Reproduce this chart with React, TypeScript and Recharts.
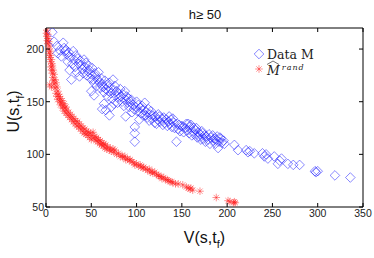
import { ScatterChart, Scatter, XAxis, YAxis, ReferenceArea, Legend } from 'recharts'

// [V, U] pairs
const dataM: [number, number][] = [
  [7, 216], [9, 207], [12, 203], [13, 196], [15, 199], [17, 193], [19, 206], [20, 201], [21, 198], [22, 199],
  [23, 195], [24, 188], [25, 197], [26, 180], [27, 192], [28, 171], [29, 186], [30, 198], [31, 190], [32, 183],
  [33, 194], [34, 178], [35, 191], [36, 186], [37, 174], [38, 189], [39, 185], [40, 181], [41, 177], [42, 190],
  [43, 183], [44, 187], [45, 175], [46, 179], [47, 184], [48, 180], [49, 172], [50, 160], [50, 176], [51, 182],
  [52, 171], [53, 156], [53, 168], [54, 177], [55, 174], [56, 165], [57, 171], [58, 178], [59, 168], [60, 163],
  [61, 172], [62, 167], [62, 143], [63, 164], [64, 159], [64, 148], [65, 170], [66, 142], [66, 162], [67, 166],
  [68, 155], [69, 160], [70, 137], [70, 168], [71, 163], [72, 158], [72, 145], [73, 153], [74, 171], [75, 161],
  [75, 148], [76, 165], [77, 156], [78, 160], [79, 149], [80, 158], [81, 154], [82, 162], [83, 155], [84, 150],
  [85, 157], [86, 146], [87, 160], [88, 136], [88, 152], [89, 155], [90, 149], [91, 153], [92, 145], [93, 150],
  [94, 152], [95, 140], [96, 147], [97, 143], [98, 126], [98, 112], [98, 120], [99, 145], [100, 150], [101, 141],
  [102, 147], [103, 133], [104, 144], [105, 139], [106, 146], [107, 137], [108, 142], [109, 149], [110, 137], [111, 140],
  [112, 135], [113, 143], [114, 132], [115, 138], [116, 141], [117, 134], [118, 137], [120, 130], [121, 136], [122, 129],
  [123, 133], [124, 138], [125, 136], [126, 131], [128, 134], [129, 128], [130, 135], [131, 130], [133, 133], [134, 127],
  [135, 131], [136, 136], [137, 129], [138, 133], [139, 126], [140, 134], [141, 130], [142, 125], [144, 112], [145, 129],
  [146, 124], [147, 128], [148, 122], [150, 127], [151, 126], [152, 121], [154, 125], [155, 129], [156, 123], [157, 129],
  [158, 120], [159, 126], [160, 128], [161, 118], [162, 122], [163, 125], [164, 119], [165, 123], [166, 125], [167, 116],
  [168, 121], [169, 117], [170, 119], [171, 114], [172, 122], [173, 120], [174, 115], [175, 118], [176, 112], [177, 117],
  [179, 114], [180, 119], [181, 110], [182, 116], [184, 118], [185, 113], [186, 115], [187, 110], [188, 114], [189, 117],
  [190, 106], [191, 112], [192, 116], [193, 115], [194, 111], [196, 113], [197, 110], [208, 109], [212, 104], [221, 104],
  [223, 102], [225, 103], [230, 101], [239, 101], [241, 98], [243, 100], [245, 96], [252, 98], [256, 91], [258, 94],
  [260, 96], [267, 91], [273, 90], [280, 90], [297, 84], [298, 83], [300, 84], [319, 80], [336, 78],
]

const dataRand: [number, number][] = [
  [0.5, 215], [1, 218], [1, 212], [1.5, 208], [2, 214], [2, 205], [2.5, 210], [3, 200], [3, 207], [3.5, 196],
  [4, 203], [4, 192], [4.5, 198], [5, 188], [5, 194], [5.5, 183], [6, 190], [6, 180], [6.5, 186], [7, 177],
  [7, 184], [7.5, 173], [8, 180], [8, 170], [9, 176], [9, 167], [4, 166], [6, 164], [10, 171], [10, 163],
  [11, 168], [11, 158], [12, 164], [12, 155], [13, 160], [13, 152], [14, 157], [15, 150], [15, 155], [16, 147],
  [16, 153], [17, 149], [18, 144], [18, 151], [19, 146], [20, 141], [20, 148], [21, 144], [22, 139], [22, 145],
  [23, 142], [24, 137], [25, 140], [26, 135], [27, 138], [28, 133], [29, 136], [30, 131], [31, 134], [32, 129],
  [33, 132], [34, 127], [35, 131], [36, 126], [37, 129], [38, 124], [39, 127], [40, 122], [41, 125], [42, 120],
  [43, 124], [44, 119], [45, 122], [46, 118], [47, 121], [48, 116], [49, 120], [50, 114], [51, 118], [52, 121],
  [53, 115], [54, 117], [55, 113], [56, 116], [57, 112], [58, 114], [59, 110], [60, 113], [61, 109], [62, 111],
  [63, 108], [64, 110], [65, 106], [66, 109], [67, 105], [68, 107], [70, 104], [71, 106], [72, 103], [74, 105],
  [75, 102], [76, 104], [78, 100], [80, 101], [82, 98], [84, 99], [85, 97], [87, 98], [88, 95], [90, 96],
  [92, 94], [93, 95], [95, 93], [97, 92], [98, 90], [100, 91], [102, 89], [104, 90], [105, 88], [107, 87],
  [108, 88], [110, 86], [112, 85], [114, 86], [115, 83], [117, 84], [118, 82], [120, 83], [122, 81], [124, 80],
  [125, 79], [127, 79], [128, 77], [130, 78], [132, 76], [134, 76], [135, 75], [137, 74], [139, 74], [140, 73],
  [143, 72], [146, 72], [151, 71], [155, 69], [157, 68], [159, 67], [160, 68], [162, 66], [170, 65], [188, 59],
  [201, 56], [203, 55], [207, 54], [208, 55], [209, 54],
]

const xTicks = [0, 50, 100, 150, 200, 250, 300, 350]
const yTicks = [50, 100, 150, 200]

const W = 374
const H = 258
const M = { top: 28, right: 11, bottom: 0, left: 0 }
const Y_W = 46
const X_H = 51
const PW = W - M.left - M.right - Y_W
const PH = H - M.top - M.bottom - X_H

const font = '"Liberation Sans", Arial, sans-serif'
const serif = '"DejaVu Serif", "Liberation Serif", serif'

const toPts = (d: [number, number][]) => d.map(([v, u]) => ({ v, u }))

const Diamond = (p: any) => {
  const { cx, cy } = p
  if (cx == null || cy == null) return <g />
  const r = 4.8
  return (
    <path
      d={`M${cx},${cy - r}L${cx + r},${cy}L${cx},${cy + r}L${cx - r},${cy}Z`}
      fill="none"
      stroke="#1a1aff"
      strokeOpacity={0.65}
      strokeWidth={0.8}
    />
  )
}

const Star = (p: any) => {
  const { cx, cy } = p
  if (cx == null || cy == null) return <g />
  const r = 3.8
  const d = r * 0.7
  return (
    <g stroke="#ff1a1a" strokeOpacity={0.6} strokeWidth={0.8}>
      <line x1={cx - r} y1={cy} x2={cx + r} y2={cy} />
      <line x1={cx} y1={cy - r} x2={cx} y2={cy + r} />
      <line x1={cx - d} y1={cy - d} x2={cx + d} y2={cy + d} />
      <line x1={cx - d} y1={cy + d} x2={cx + d} y2={cy - d} />
    </g>
  )
}

const XTick = (p: any) => {
  const { x, y, payload } = p
  return (
    <g>
      <line x1={x} y1={y} x2={x} y2={y - 4} stroke="#000" />
      <line x1={x} y1={y - PH} x2={x} y2={y - PH + 4} stroke="#000" />
      <text x={x} y={y + 10} textAnchor="middle" fontSize={10.5} fontFamily={font} fill="#222">
        {payload.value}
      </text>
    </g>
  )
}

const YTick = (p: any) => {
  const { x, y, payload } = p
  return (
    <g>
      <line x1={x} y1={y} x2={x + 4} y2={y} stroke="#000" />
      <line x1={x + PW} y1={y} x2={x + PW - 4} y2={y} stroke="#000" />
      <text x={x - 2} y={y + 4} textAnchor="end" fontSize={10.5} fontFamily={font} fill="#222">
        {payload.value}
      </text>
    </g>
  )
}

const Overlay = () => (
  <svg width={W} height={H} style={{ position: 'absolute', left: 0, top: 0, pointerEvents: 'none' }}>
    <text x={205} y={19} textAnchor="middle" fontSize={13} fontFamily={font} fill="#111">
      h≥ 50
    </text>
    <Diamond cx={259} cy={54} />
    <text x={267} y={59} fontSize={12.5} fontFamily={serif} fill="#222">
      Data M
    </text>
    <Star cx={259} cy={69} />
    <text x={267} y={75} fontSize={12.5} fontFamily={serif} fontStyle="italic" fill="#222">
      M
      <tspan fontSize={8} dy={-5} dx={2} letterSpacing={1}>
        rand
      </tspan>
    </text>
    <path d="M267,64.5 L273,61 L279,64.5" fill="none" stroke="#333" strokeWidth={0.7} />
  </svg>
)

const XLabel = (p: any) => {
  const vb = p.viewBox
  const cx = vb.x + vb.width / 2
  return (
    <text x={cx} y={vb.y + 36} textAnchor="middle" fontSize={16} fontFamily={font} fill="#111">
      V(s,t
      <tspan fontSize={11} dy={5}>
        f
      </tspan>
      <tspan dy={-5}>)</tspan>
    </text>
  )
}

const YLabel = () => (
  <text
    x={0}
    y={0}
    transform={`translate(19, ${M.top + PH / 2 - 6}) rotate(-90)`}
    textAnchor="middle"
    fontSize={16}
    fontFamily={font}
    fill="#111"
  >
    U(s,t
    <tspan fontSize={11} dy={5}>
      f
    </tspan>
    <tspan dy={-5}>)</tspan>
  </text>
)

export default function App() {
  return (
    <div style={{ position: 'absolute', left: 0, top: 0, width: W, height: H, background: '#fff' }}>
      <ScatterChart width={W} height={H} margin={M}>
        <XAxis
          type="number"
          dataKey="v"
          domain={[0, 350]}
          ticks={xTicks}
          height={X_H}
          tickSize={0}
          tickMargin={0}
          axisLine={false}
          tick={<XTick />}
          interval={0}
          label={<XLabel />}
        />
        <YAxis
          type="number"
          dataKey="u"
          domain={[50, 220]}
          ticks={yTicks}
          width={Y_W}
          tickSize={0}
          tickMargin={0}
          axisLine={false}
          tick={<YTick />}
          interval={0}
          allowDataOverflow
          label={<YLabel />}
        />
        <ReferenceArea x1={0} x2={350} y1={50} y2={220} fill="none" stroke="#000" strokeWidth={1} />
        <Scatter data={toPts(dataRand)} shape={<Star />} isAnimationActive={false} />
        <Scatter data={toPts(dataM)} shape={<Diamond />} isAnimationActive={false} />
        <Legend content={() => <Overlay />} wrapperStyle={{ position: 'absolute', left: 0, top: 0 }} />
      </ScatterChart>
    </div>
  )
}
